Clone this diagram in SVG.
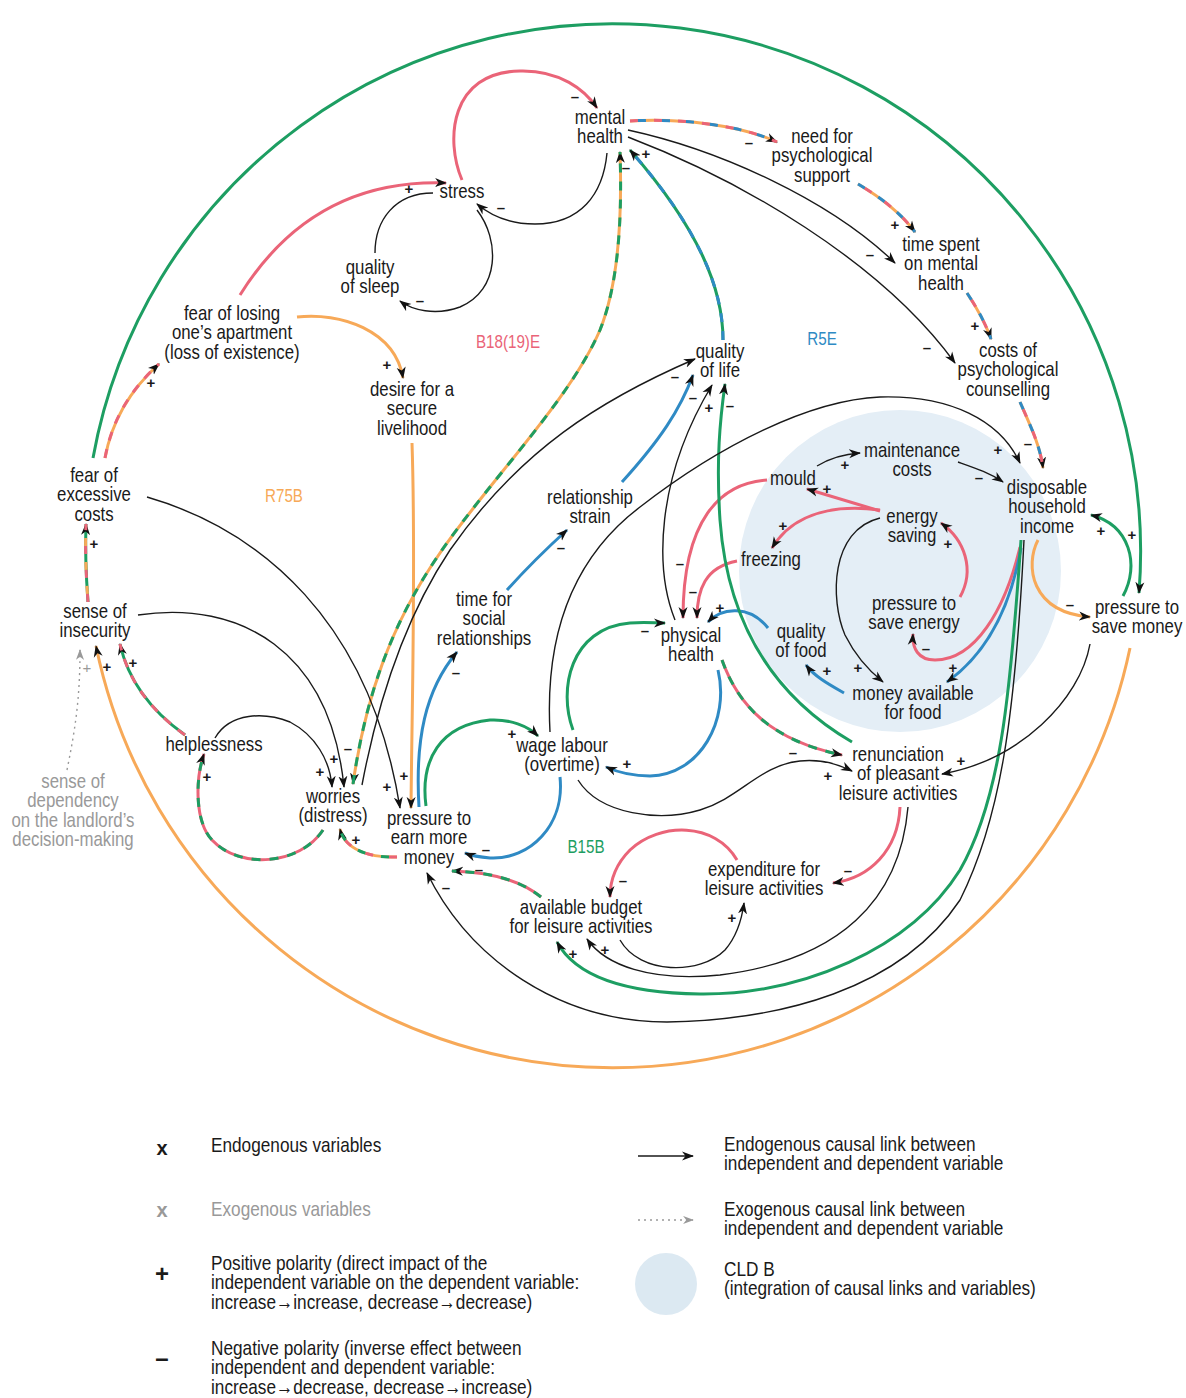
<svg xmlns="http://www.w3.org/2000/svg" width="1186" height="1398" viewBox="0 0 1186 1398">
<style>
.t{font-family:"Liberation Sans",Arial,sans-serif;font-size:20.5px;fill:#1a1a1a;text-anchor:middle}
.lg{font-family:"Liberation Sans",Arial,sans-serif;font-size:21px;fill:#1a1a1a}
.gy{fill:#999}
.lp{font-family:"Liberation Sans",Arial,sans-serif;font-size:18.5px;text-anchor:middle}
.s{font-family:"Liberation Sans",Arial,sans-serif;font-size:15px;font-weight:bold;fill:#1a1a1a;text-anchor:middle;dominant-baseline:central}
.k{fill:none;stroke:#1a1a1a;stroke-width:1.4}
.c path{fill:none;stroke-width:3}
.pk{stroke:#EA6478}.gn{stroke:#1D9E62}.bl{stroke:#2F8AC4}.or{stroke:#F7A958}
.d2{stroke-dasharray:9 9}
.d3a{stroke-dasharray:8 16}
.d3b{stroke-dasharray:8 16;stroke-dashoffset:16}
</style>
<defs>
<marker id="ah" viewBox="0 0 12 10" refX="11" refY="5" markerWidth="12" markerHeight="10" markerUnits="userSpaceOnUse" orient="auto-start-reverse"><path d="M0,0.5 L12,5 L0,9.5 L3.5,5 Z" fill="#111"/></marker>
<marker id="ahg" viewBox="0 0 12 10" refX="11" refY="5" markerWidth="11" markerHeight="9" markerUnits="userSpaceOnUse" orient="auto"><path d="M0,0.5 L12,5 L0,9.5 L3.5,5 Z" fill="#999"/></marker>
</defs>
<rect width="1186" height="1398" fill="#fff"/>
<circle id="cld-b" cx="900" cy="571" r="161" fill="#E4EEF6"/>

<g id="connectors">
<path d="M93,458 A528,528 0 0 1 1139,593" fill="none" stroke="#1D9E62" stroke-width="3" marker-end="url(#ah)"/>
<path d="M1130,648 A528,528 0 0 1 96,646" fill="none" stroke="#F7A958" stroke-width="3" marker-end="url(#ah)"/>

<g class="c">
<path class="pk" d="M462,180 C445,140 450,72 520,71 C560,70 585,90 597,108" marker-end="url(#ah)"/>
<path class="pk" d="M240,295 C290,215 360,180 446,183" marker-end="url(#ah)"/>
<path class="or" d="M297,317 C340,312 395,330 403,378" marker-end="url(#ah)"/>
<path class="or" d="M412,443 C416,560 412,700 411,808" marker-end="url(#ah)"/>
<path class="or" d="M353,784 C365,700 390,625 440,553 C490,480 570,400 600,330 C620,280 622,210 620,152" marker-start="url(#ah)" marker-end="url(#ah)"/>
<path class="gn d2" d="M353,784 C365,700 390,625 440,553 C490,480 570,400 600,330 C620,280 622,210 620,152"/>
<path class="gn" d="M723,340 C723,290 700,230 630,150" marker-end="url(#ah)"/>
<path class="bl d2" d="M723,340 C723,290 700,230 630,150"/>
<path class="or" d="M630,121 C680,118 740,125 777,142" marker-end="url(#ah)"/>
<path class="pk d3a" d="M630,121 C680,118 740,125 777,142"/>
<path class="bl d3b" d="M630,121 C680,118 740,125 777,142"/>
<path class="or" d="M858,184 C880,197 900,212 915,232" marker-end="url(#ah)"/>
<path class="bl d3a" d="M858,184 C880,197 900,212 915,232"/>
<path class="pk d3b" d="M858,184 C880,197 900,212 915,232"/>
<path class="or" d="M967,293 C977,308 985,322 991,339" marker-end="url(#ah)"/>
<path class="bl d3a" d="M967,293 C977,308 985,322 991,339"/>
<path class="pk d3b" d="M967,293 C977,308 985,322 991,339"/>
<path class="or" d="M1020,402 C1030,425 1040,445 1043,468" marker-end="url(#ah)"/>
<path class="bl d3a" d="M1020,402 C1030,425 1040,445 1043,468"/>
<path class="pk d3b" d="M1020,402 C1030,425 1040,445 1043,468"/>
<path class="pk" d="M880,511 L807,489" marker-end="url(#ah)"/>
<path class="pk" d="M880,510 C840,505 795,510 772,548" marker-end="url(#ah)"/>
<path class="pk" d="M767,480 C720,483 683,520 683,618" marker-end="url(#ah)"/>
<path class="pk" d="M737,561 C705,567 697,590 697,618" marker-end="url(#ah)"/>
<path class="bl" d="M768,628 C750,605 722,607 708,622" marker-end="url(#ah)"/>
<path class="pk" d="M960,597 C975,570 965,540 941,523" marker-end="url(#ah)"/>
<path class="pk" d="M1020,547 C1005,610 975,660 935,660 C918,660 912,648 913,634" marker-end="url(#ah)"/>
<path class="bl" d="M1021,548 C1010,610 985,655 947,682" marker-end="url(#ah)"/>
<path class="bl" d="M844,693 C830,685 815,677 806,665" marker-end="url(#ah)"/>
<path class="or" d="M1038,540 C1025,565 1030,612 1090,617" marker-end="url(#ah)"/>
<path class="gn" d="M1123,596 C1140,565 1130,525 1091,515" marker-end="url(#ah)"/>
<path class="gn" d="M1021,540 C1010,700 1000,800 960,870 C910,950 800,995 700,994 C620,993 575,975 557,942" marker-end="url(#ah)"/>
<path class="pk" d="M900,807 C898,850 870,878 833,883" marker-end="url(#ah)"/>
<path class="pk" d="M737,860 C715,822 660,822 630,850 C615,865 610,880 610,897" marker-end="url(#ah)"/>
<path class="pk" d="M541,897 C520,880 490,872 452,871" marker-end="url(#ah)"/>
<path class="gn d2" d="M541,897 C520,880 490,872 452,871"/>
<path class="bl" d="M560,777 C565,825 530,860 490,858 C478,857 470,855 465,853" marker-end="url(#ah)"/>
<path class="gn" d="M426,806 C420,760 440,725 490,720 C510,719 528,726 538,736" marker-end="url(#ah)"/>
<path class="bl" d="M419,807 C415,740 425,690 457,652" marker-end="url(#ah)"/>
<path class="bl" d="M507,590 C525,570 545,550 567,530" marker-end="url(#ah)"/>
<path class="bl" d="M622,482 C660,440 680,410 693,375" marker-end="url(#ah)"/>
<path class="gn" d="M852,742 C780,700 728,630 720,520 C716,460 720,420 725,384" marker-end="url(#ah)"/>
<path class="gn" d="M573,730 C558,690 570,628 630,623 C645,622 655,623 665,623" marker-end="url(#ah)"/>
<path class="bl" d="M718,670 C730,720 700,775 650,776 C630,776 615,771 606,767" marker-end="url(#ah)"/>
<path class="pk" d="M722,660 C738,705 770,740 842,755" marker-end="url(#ah)"/>
<path class="gn d2" d="M722,660 C738,705 770,740 842,755"/>
<path class="gn" d="M185,735 C150,710 128,680 120,644" marker-end="url(#ah)"/>
<path class="pk d2" d="M185,735 C150,710 128,680 120,644"/>
<path class="pk" d="M323,830 C300,865 240,870 212,840 C195,822 195,780 204,754" marker-end="url(#ah)"/>
<path class="gn d2" d="M323,830 C300,865 240,870 212,840 C195,822 195,780 204,754"/>
<path class="or" d="M397,857 C370,858 345,850 340,829" marker-end="url(#ah)"/>
<path class="pk d3a" d="M397,857 C370,858 345,850 340,829"/>
<path class="gn d3b" d="M397,857 C370,858 345,850 340,829"/>
<path class="gn" d="M88,602 C86,575 85,550 86,524" marker-end="url(#ah)"/>
<path class="pk d3a" d="M88,602 C86,575 85,550 86,524"/>
<path class="or d3b" d="M88,602 C86,575 85,550 86,524"/>
<path class="or" d="M105,458 C112,420 130,390 159,364" marker-end="url(#ah)"/>
<path class="pk d2" d="M105,458 C112,420 130,390 159,364"/>
</g>

<path class="k" d="M607,153 C603,195 580,224 535,224 C510,224 490,215 477,204" marker-end="url(#ah)"/>
<path class="k" d="M375,253 C375,220 395,193 433,193"/>
<path class="k" d="M477,210 C500,240 500,290 460,307 C435,316 412,310 400,301" marker-end="url(#ah)"/>
<path class="k" d="M628,130 C720,150 830,200 895,263" marker-end="url(#ah)"/>
<path class="k" d="M628,137 C740,180 880,260 955,363" marker-end="url(#ah)"/>
<path class="k" d="M550,732 C545,640 570,560 640,507 C720,445 810,400 880,397 C950,395 1000,420 1020,463" marker-end="url(#ah)"/>
<path class="k" d="M958,462 C975,468 990,473 1003,482" marker-end="url(#ah)"/>
<path class="k" d="M817,466 C830,458 845,454 860,453" marker-end="url(#ah)"/>
<path class="k" d="M880,518 C830,530 830,600 845,635 C855,655 868,670 883,682" marker-end="url(#ah)"/>
<path class="k" d="M1090,644 C1080,700 1020,760 942,774" marker-end="url(#ah)"/>
<path class="k" d="M1024,540 C1015,720 1000,820 960,900 C900,990 780,1020 667,1022 C560,1022 470,960 427,873" marker-end="url(#ah)"/>
<path class="k" d="M908,807 C900,900 840,960 720,975 C650,982 605,965 587,939" marker-end="url(#ah)"/>
<path class="k" d="M620,940 C640,975 700,975 725,950 C738,935 742,918 744,903" marker-end="url(#ah)"/>
<path class="k" d="M362,785 C380,690 410,610 450,550 C520,450 600,400 695,359" marker-end="url(#ah)"/>
<path class="k" d="M675,620 C655,570 655,480 712,385" marker-end="url(#ah)"/>
<path class="k" d="M578,780 C600,815 660,822 700,810 C740,798 760,765 800,761 C820,759 838,764 852,771" marker-end="url(#ah)"/>
<path class="k" d="M147,497 C260,530 370,620 400,808" marker-end="url(#ah)"/>
<path class="k" d="M138,615 C240,600 330,650 344,787" marker-end="url(#ah)"/>
<path class="k" d="M215,738 C230,712 265,712 290,722 C315,735 330,760 332,787" marker-end="url(#ah)"/>
<path d="M67,770 C75,730 80,700 80,650" fill="none" stroke="#999" stroke-width="1.4" stroke-dasharray="2 4" marker-end="url(#ahg)"/>

<g id="polarities">
<text class="s" x="575" y="96">–</text>
<text class="s" x="501" y="207">–</text>
<text class="s" x="409" y="188">+</text>
<text class="s" x="420" y="300">–</text>
<text class="s" x="387" y="364">+</text>
<text class="s" x="749" y="142">–</text>
<text class="s" x="626" y="167">–</text>
<text class="s" x="646" y="153">+</text>
<text class="s" x="895" y="224">+</text>
<text class="s" x="870" y="254">–</text>
<text class="s" x="975" y="325">+</text>
<text class="s" x="927" y="347">–</text>
<text class="s" x="1028" y="443">–</text>
<text class="s" x="998" y="449">+</text>
<text class="s" x="979" y="477">–</text>
<text class="s" x="845" y="464">+</text>
<text class="s" x="827" y="488">+</text>
<text class="s" x="783" y="525">+</text>
<text class="s" x="680" y="563">–</text>
<text class="s" x="693" y="591">–</text>
<text class="s" x="720" y="607">+</text>
<text class="s" x="858" y="667">+</text>
<text class="s" x="948" y="543">+</text>
<text class="s" x="926" y="648">–</text>
<text class="s" x="953" y="667">+</text>
<text class="s" x="827" y="670">+</text>
<text class="s" x="1070" y="604">–</text>
<text class="s" x="1101" y="530">+</text>
<text class="s" x="1132" y="534">+</text>
<text class="s" x="107" y="666">+</text>
<text class="s" x="961" y="760">+</text>
<text class="s" x="573" y="953">+</text>
<text class="s" x="446" y="887">–</text>
<text class="s" x="605" y="949">+</text>
<text class="s" x="732" y="917">+</text>
<text class="s" x="848" y="870">–</text>
<text class="s" x="623" y="880">–</text>
<text class="s" x="479" y="869">–</text>
<text class="s" x="486" y="849">–</text>
<text class="s" x="512" y="733">+</text>
<text class="s" x="456" y="672">–</text>
<text class="s" x="561" y="547">–</text>
<text class="s" x="693" y="397">–</text>
<text class="s" x="675" y="376">–</text>
<text class="s" x="709" y="407">+</text>
<text class="s" x="730" y="405">–</text>
<text class="s" x="645" y="630">–</text>
<text class="s" x="627" y="763">+</text>
<text class="s" x="793" y="752">–</text>
<text class="s" x="828" y="775">+</text>
<text class="s" x="404" y="775">+</text>
<text class="s" x="387" y="786">+</text>
<text class="s" x="334" y="758">+</text>
<text class="s" x="320" y="771">+</text>
<text class="s" x="133" y="662">+</text>
<text class="s" x="207" y="776">+</text>
<text class="s" x="356" y="839">+</text>
<text class="s" x="94" y="543">+</text>
<text class="s" x="151" y="382">+</text>
<text class="s" x="348" y="748">–</text>
<text class="s" x="87" y="667" style="fill:#999;font-weight:normal">+</text>
</g>
</g>

<g id="mental-health" transform="translate(600,0) scale(0.82,1)"><text class="t" y="124">mental<tspan x="0" dy="19.5">health</tspan></text></g>
<g id="stress" transform="translate(462,0) scale(0.82,1)"><text class="t" y="198">stress</text></g>
<g id="quality-of-sleep" transform="translate(370,0) scale(0.82,1)"><text class="t" y="274">quality<tspan x="0" dy="19.5">of sleep</tspan></text></g>
<g id="need-psych-support" transform="translate(822,0) scale(0.82,1)"><text class="t" y="143">need for<tspan x="0" dy="19.5">psychological</tspan><tspan x="0" dy="19.5">support</tspan></text></g>
<g id="time-spent" transform="translate(941,0) scale(0.82,1)"><text class="t" y="251">time spent<tspan x="0" dy="19.5">on mental</tspan><tspan x="0" dy="19.5">health</tspan></text></g>
<g id="costs-counselling" transform="translate(1008,0) scale(0.82,1)"><text class="t" y="357">costs of<tspan x="0" dy="19.5">psychological</tspan><tspan x="0" dy="19.5">counselling</tspan></text></g>
<g id="fear-losing" transform="translate(232,0) scale(0.82,1)"><text class="t" y="320">fear of losing<tspan x="0" dy="19.5">one’s apartment</tspan><tspan x="0" dy="19.5">(loss of existence)</tspan></text></g>
<g id="desire" transform="translate(412,0) scale(0.82,1)"><text class="t" y="396">desire for a<tspan x="0" dy="19.5">secure</tspan><tspan x="0" dy="19.5">livelihood</tspan></text></g>
<g id="quality-of-life" transform="translate(720,0) scale(0.82,1)"><text class="t" y="358">quality<tspan x="0" dy="19.5">of life</tspan></text></g>
<g id="fear-excessive" transform="translate(94,0) scale(0.82,1)"><text class="t" y="482">fear of<tspan x="0" dy="19.5">excessive</tspan><tspan x="0" dy="19.5">costs</tspan></text></g>
<g id="relationship-strain" transform="translate(590,0) scale(0.82,1)"><text class="t" y="504">relationship<tspan x="0" dy="19.5">strain</tspan></text></g>
<g id="time-social" transform="translate(484,0) scale(0.82,1)"><text class="t" y="606">time for<tspan x="0" dy="19.5">social</tspan><tspan x="0" dy="19.5">relationships</tspan></text></g>
<g id="insecurity" transform="translate(95,0) scale(0.82,1)"><text class="t" y="618">sense of<tspan x="0" dy="19.5">insecurity</tspan></text></g>
<g id="helplessness" transform="translate(214,0) scale(0.82,1)"><text class="t" y="751">helplessness</text></g>
<g id="worries" transform="translate(333,0) scale(0.82,1)"><text class="t" y="803">worries<tspan x="0" dy="19.5">(distress)</tspan></text></g>
<g id="pressure-earn" transform="translate(429,0) scale(0.82,1)"><text class="t" y="825">pressure to<tspan x="0" dy="19.5">earn more</tspan><tspan x="0" dy="19.5">money</tspan></text></g>
<g id="wage-labour" transform="translate(562,0) scale(0.82,1)"><text class="t" y="752">wage labour<tspan x="0" dy="19.5">(overtime)</tspan></text></g>
<g id="physical-health" transform="translate(691,0) scale(0.82,1)"><text class="t" y="642">physical<tspan x="0" dy="19.5">health</tspan></text></g>
<g id="quality-food" transform="translate(801,0) scale(0.82,1)"><text class="t" y="638">quality<tspan x="0" dy="19.5">of food</tspan></text></g>
<g id="mould" transform="translate(793,0) scale(0.82,1)"><text class="t" y="485">mould</text></g>
<g id="maintenance" transform="translate(912,0) scale(0.82,1)"><text class="t" y="457">maintenance<tspan x="0" dy="19.5">costs</tspan></text></g>
<g id="energy-saving" transform="translate(912,0) scale(0.82,1)"><text class="t" y="523">energy<tspan x="0" dy="19.5">saving</tspan></text></g>
<g id="freezing" transform="translate(771,0) scale(0.82,1)"><text class="t" y="566">freezing</text></g>
<g id="pressure-energy" transform="translate(914,0) scale(0.82,1)"><text class="t" y="610">pressure to<tspan x="0" dy="19.5">save energy</tspan></text></g>
<g id="money-food" transform="translate(913,0) scale(0.82,1)"><text class="t" y="700">money available<tspan x="0" dy="19.5">for food</tspan></text></g>
<g id="disposable-income" transform="translate(1047,0) scale(0.82,1)"><text class="t" y="494">disposable<tspan x="0" dy="19.5">household</tspan><tspan x="0" dy="19.5">income</tspan></text></g>
<g id="pressure-save-money" transform="translate(1137,0) scale(0.82,1)"><text class="t" y="614">pressure to<tspan x="0" dy="19.5">save money</tspan></text></g>
<g id="renunciation" transform="translate(898,0) scale(0.82,1)"><text class="t" y="761">renunciation<tspan x="0" dy="19.5">of pleasant</tspan><tspan x="0" dy="19.5">leisure activities</tspan></text></g>
<g id="expenditure" transform="translate(764,0) scale(0.82,1)"><text class="t" y="876">expenditure for<tspan x="0" dy="19.5">leisure activities</tspan></text></g>
<g id="available-budget" transform="translate(581,0) scale(0.82,1)"><text class="t" y="914">available budget<tspan x="0" dy="19.5">for leisure activities</tspan></text></g>
<g id="dependency" transform="translate(73,0) scale(0.82,1)"><text class="t gy" y="788">sense of<tspan x="0" dy="19.5">dependency</tspan><tspan x="0" dy="19.5">on the landlord’s</tspan><tspan x="0" dy="19.5">decision-making</tspan></text></g>

<g id="loop-labels">
<g transform="translate(508,0) scale(0.82,1)"><text class="lp" y="348" fill="#EA6478">B18(19)E</text></g>
<g transform="translate(822,0) scale(0.82,1)"><text class="lp" y="345" fill="#2F8AC4">R5E</text></g>
<g transform="translate(284,0) scale(0.82,1)"><text class="lp" y="502" fill="#F7A958">R75B</text></g>
<g transform="translate(586,0) scale(0.82,1)"><text class="lp" y="853" fill="#1D9E62">B15B</text></g>
</g>

<g id="legend">
<text x="162" y="1155" style="font-family:'Liberation Sans',Arial,sans-serif;font-size:20px;font-weight:bold;text-anchor:middle" fill="#1a1a1a">x</text>
<text x="162" y="1217" style="font-family:'Liberation Sans',Arial,sans-serif;font-size:20px;font-weight:bold;text-anchor:middle" fill="#999">x</text>
<text x="162" y="1282" style="font-family:'Liberation Sans',Arial,sans-serif;font-size:24px;font-weight:bold;text-anchor:middle" fill="#1a1a1a">+</text>
<text x="162" y="1366" style="font-family:'Liberation Sans',Arial,sans-serif;font-size:24px;font-weight:bold;text-anchor:middle" fill="#1a1a1a">–</text>
<g transform="translate(211,0) scale(0.82,1)">
<text class="lg" x="0" y="1152">Endogenous variables</text>
<text class="lg gy" x="0" y="1216">Exogenous variables</text>
<text class="lg" x="0" y="1270">Positive polarity (direct impact of the<tspan x="0" dy="19.5">independent variable on the dependent variable:</tspan><tspan x="0" dy="19.5">increase→increase, decrease→decrease)</tspan></text>
<text class="lg" x="0" y="1355">Negative polarity (inverse effect between<tspan x="0" dy="19.5">independent and dependent variable:</tspan><tspan x="0" dy="19.5">increase→decrease, decrease→increase)</tspan></text>
</g>
<path d="M638,1156 L693,1156" stroke="#1a1a1a" stroke-width="1.6" fill="none" marker-end="url(#ah)"/>
<path d="M638,1220 L693,1220" stroke="#999" stroke-width="1.4" stroke-dasharray="2 4" fill="none" marker-end="url(#ahg)"/>
<circle cx="666" cy="1284" r="31" fill="#DCE9F2"/>
<g transform="translate(724,0) scale(0.82,1)">
<text class="lg" x="0" y="1151">Endogenous causal link between<tspan x="0" dy="19.5">independent and dependent variable</tspan></text>
<text class="lg" x="0" y="1216">Exogenous causal link between<tspan x="0" dy="19.5">independent and dependent variable</tspan></text>
<text class="lg" x="0" y="1276">CLD B<tspan x="0" dy="19.5">(integration of causal links and variables)</tspan></text>
</g>
</g>
</svg>
